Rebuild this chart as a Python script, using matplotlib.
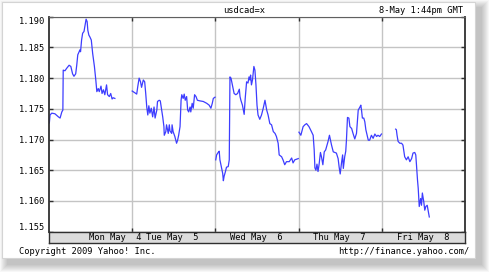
import numpy as np
import matplotlib
matplotlib.use("Agg")
import matplotlib.pyplot as plt
from matplotlib.patches import Rectangle

# USD/CAD intraday, 4-8 May 2009. Time is hours since Mon 00:00 GMT.
mon_h = [0.1, 0.3, 0.8, 1.7, 2.7, 3.2, 3.7, 4.0, 4.1, 4.6, 5.1, 5.8, 6.3, 6.8, 7.2, 7.7,
         8.0, 8.3, 8.7, 8.9, 9.1, 9.4, 9.7, 10.1, 10.4, 10.7, 11.0, 11.2, 11.5, 11.8,
         12.2, 12.6, 13.1, 13.5, 13.8, 14.2, 14.5, 15.0, 15.3, 15.7, 16.1, 16.6, 16.9,
         17.4, 17.8, 18.2, 18.5, 19.0]
mon_r = [1.1727, 1.1740, 1.1743, 1.1742, 1.1737, 1.1735, 1.1745, 1.1748, 1.1813, 1.1812,
         1.1816, 1.1821, 1.1819, 1.1807, 1.1803, 1.1807, 1.1821, 1.1838, 1.1843, 1.1846,
         1.1843, 1.1862, 1.1873, 1.1876, 1.1886, 1.1896, 1.1892, 1.1878, 1.1870, 1.1867,
         1.1862, 1.1840, 1.1819, 1.1797, 1.1778, 1.1783, 1.1778, 1.1787, 1.1775, 1.1781,
         1.1773, 1.1789, 1.1773, 1.1770, 1.1775, 1.1766, 1.1768, 1.1767]

tue_h = [24.0, 24.8, 25.3, 25.6, 26.0, 26.4, 26.7, 27.2, 27.6, 27.9, 28.2, 28.5, 28.8,
         29.1, 29.5, 29.9, 30.3, 30.6, 31.1, 31.3, 31.8, 32.1, 32.5, 32.8, 33.15, 33.25,
         33.7, 33.9, 34.4, 34.7, 34.9, 35.4, 35.5, 35.8, 36.3, 36.8, 37.1, 37.4, 37.8,
         38.1, 38.3, 38.7, 39.0, 39.3, 39.7, 40.0, 40.3, 40.7, 40.9, 41.3, 41.6, 42.0,
         42.4, 42.8, 43.5, 44.5, 45.5, 46.2, 46.7, 47.1, 47.4, 47.9]
tue_r = [1.1779, 1.1776, 1.1774, 1.1786, 1.1800, 1.1794, 1.1785, 1.1797, 1.1794, 1.1775,
         1.1753, 1.1740, 1.1755, 1.1743, 1.1751, 1.1737, 1.1753, 1.1735, 1.1748, 1.1762,
         1.1764, 1.1763, 1.1748, 1.1737, 1.1721, 1.1707, 1.1713, 1.1724, 1.1710, 1.1724,
         1.1714, 1.1710, 1.1724, 1.1713, 1.1705, 1.1694, 1.1699, 1.1707, 1.1721, 1.1764,
         1.1773, 1.1767, 1.1774, 1.1764, 1.1770, 1.1748, 1.1745, 1.1753, 1.1745, 1.1759,
         1.1751, 1.1773, 1.1770, 1.1764, 1.1763, 1.1762, 1.1759, 1.1756, 1.1751, 1.1759,
         1.1767, 1.1769]

wed_h = [48.1, 48.35, 48.8, 49.1, 49.3, 49.7, 50.1, 50.3, 50.5, 50.9, 51.2, 51.7, 52.0,
         52.2, 52.5, 53.0, 53.4, 53.9, 54.4, 54.9, 55.1, 55.35, 55.8, 56.3, 56.6, 57.0,
         57.4, 57.7, 57.95, 58.15, 58.4, 58.7, 59.1, 59.4, 59.7, 60.0, 60.3, 60.8, 61.3,
         61.8, 62.3, 62.8, 63.2, 63.7, 64.2, 64.7, 65.2, 65.6, 66.1, 66.4, 67.1, 67.5,
         68.0, 68.5, 69.3, 70.0, 70.4, 70.9, 71.4, 71.9]
wed_r = [1.1667, 1.1675, 1.1679, 1.1681, 1.1667, 1.1656, 1.1645, 1.1633, 1.1640, 1.1648,
         1.1655, 1.1656, 1.1667, 1.1802, 1.1800, 1.1786, 1.1775, 1.1773, 1.1775, 1.1782,
         1.1770, 1.1764, 1.1756, 1.1741, 1.1767, 1.1794, 1.1792, 1.1802, 1.1797, 1.1805,
         1.1789, 1.1797, 1.1819, 1.1813, 1.1789, 1.1756, 1.1740, 1.1733, 1.1740, 1.1751,
         1.1764, 1.1748, 1.1740, 1.1726, 1.1724, 1.1713, 1.1710, 1.1705, 1.1694, 1.1675,
         1.1672, 1.1667, 1.1659, 1.1664, 1.1664, 1.1670, 1.1662, 1.1667, 1.1668, 1.1669]

thu_h = [72.1, 72.65, 73.3, 73.8, 74.3, 75.0, 75.7, 76.2, 76.5, 76.7, 77.0, 77.3, 77.6,
         77.9, 78.3, 78.6, 79.0, 79.4, 79.8, 80.2, 80.5, 80.9, 81.2, 81.5, 82.0, 82.45,
         82.9, 83.4, 83.7, 84.0, 84.4, 84.7, 84.9, 85.3, 85.6, 85.8, 86.1, 86.5, 86.8,
         87.3, 87.7, 88.2, 88.7, 89.2, 89.7, 89.95, 90.15, 90.4, 90.8, 91.1, 91.4, 92.1,
         92.5, 93.0, 93.5, 94.0, 94.5, 94.9, 95.4, 95.9]
thu_r = [1.1712, 1.1707, 1.1721, 1.1724, 1.1726, 1.1721, 1.1713, 1.1707, 1.1683, 1.1654,
         1.1650, 1.1660, 1.1648, 1.1659, 1.1679, 1.1672, 1.1659, 1.1680, 1.1683, 1.1691,
         1.1697, 1.1707, 1.1699, 1.1691, 1.1680, 1.1679, 1.1678, 1.1669, 1.1655, 1.1644,
         1.1663, 1.1675, 1.1653, 1.1672, 1.1681, 1.1699, 1.1736, 1.1735, 1.1721, 1.1718,
         1.1710, 1.1701, 1.1710, 1.1748, 1.1753, 1.1756, 1.1748, 1.1735, 1.1735, 1.1729,
         1.1716, 1.1699, 1.1699, 1.1707, 1.1702, 1.1709, 1.1705, 1.1707, 1.1705, 1.1709]

fri_h = [100.0, 100.2, 100.4, 100.7, 101.2, 101.7, 102.1, 102.6, 103.1, 103.6, 104.1,
         104.6, 105.0, 105.5, 105.8, 106.0, 106.3, 106.5, 106.8, 107.2, 107.45, 107.7,
         108.1, 108.4, 108.7, 109.1, 109.35, 109.7]
fri_r = [1.1717, 1.1716, 1.1707, 1.1697, 1.1694, 1.1694, 1.1691, 1.1672, 1.1667, 1.1672,
         1.1664, 1.1669, 1.1678, 1.1679, 1.1675, 1.1659, 1.1634, 1.1621, 1.1591, 1.1604,
         1.1593, 1.1613, 1.1599, 1.1585, 1.1591, 1.1593, 1.1585, 1.1574]

sessions = [(mon_h, mon_r), (tue_h, tue_r), (wed_h, wed_r), (thu_h, thu_r), (fri_h, fri_r)]

y_ticks = [1.155, 1.160, 1.165, 1.170, 1.175, 1.180, 1.185, 1.190]
day_lines = [24, 48, 72, 96]
day_labels = ["Mon May  4", "Tue May  5", "Wed May  6", "Thu May  7", "Fri May  8"]
label_pos = [19.0, 35.5, 59.7, 83.8, 107.9]

plt.rcParams["font.family"] = "DejaVu Sans Mono"
fs = 6.3
W, H = 490, 273

fig = plt.figure(figsize=(W / 100, H / 100), dpi=100)

def box(x0, y0, x1, y1):
    # pixel box (top-left origin) -> figure coords
    return (x0 / W, 1 - y1 / H), (x1 - x0) / W, (y1 - y0) / H

# drop shadow + white card
for k in range(1, 9):
    (l, b), w, h = box(8 - k, 8 - k, 481 + k, 264 + k)
    fig.patches.append(Rectangle((l, b), w, h, transform=fig.transFigure,
                                 facecolor="black", edgecolor="none", alpha=0.03, zorder=0))
(l, b), w, h = box(2, 2, 475, 258)
fig.patches.append(Rectangle((l, b), w, h, transform=fig.transFigure,
                             facecolor="white", edgecolor="#d4d4d4", lw=0.8, zorder=1))

(l, b), w, h = box(49, 16.7, 465, 231.7)
ax = fig.add_axes([l, b, w, h])
ax.set_zorder(2)
for hrs, rate in sessions:
    ax.plot(hrs, rate, color="#3d3dff", lw=0.9)

ax.set_xlim(0, 120)
ax.set_ylim(1.155, 1.190)
ax.set_xticks(day_lines)
ax.set_xticklabels([])
ax.set_yticks(y_ticks)
ylabs = ax.set_yticklabels(["%.3f" % v for v in y_ticks], fontsize=fs)
ylabs[0].set_va("bottom")
ylabs[-1].set_va("top")
ax.tick_params(direction="in", length=3, width=1, color="#303030",
               left=True, right=True, top=True, bottom=True, pad=3)
ax.grid(True, color="#c4c4c4", lw=1.0)
for s in ["left", "right"]:
    ax.spines[s].set_color("#303030")
    ax.spines[s].set_linewidth(1.3)
ax.spines["top"].set_color("#606060")
ax.spines["bottom"].set_color("#303030")

# grey date band
(l, b), w, h = box(49, 231.7, 465, 243)
bx = fig.add_axes([l, b, w, h], facecolor="#dcdcdc")
bx.set_zorder(2)
bx.set_xlim(0, 120)
bx.set_ylim(0, 1)
bx.set_xticks([])
bx.set_yticks([])
for s in bx.spines.values():
    s.set_color("#303030")
    s.set_linewidth(1.0)
for p, lab in zip(label_pos, day_labels):
    bx.text(p, 0.45, lab, ha="center", va="center", fontsize=fs)

fig.text(244 / W, 1 - 10.5 / H, "usdcad=x", ha="center", va="center", fontsize=fs)
fig.text(463 / W, 1 - 10.5 / H, "8-May 1:44pm GMT", ha="right", va="center", fontsize=fs)
fig.text(19 / W, 1 - 251 / H, "Copyright 2009 Yahoo! Inc.", ha="left", va="center", fontsize=fs)
fig.text(469 / W, 1 - 251 / H, "http://finance.yahoo.com/", ha="right", va="center", fontsize=fs)

fig.savefig("out.png", dpi=100)
